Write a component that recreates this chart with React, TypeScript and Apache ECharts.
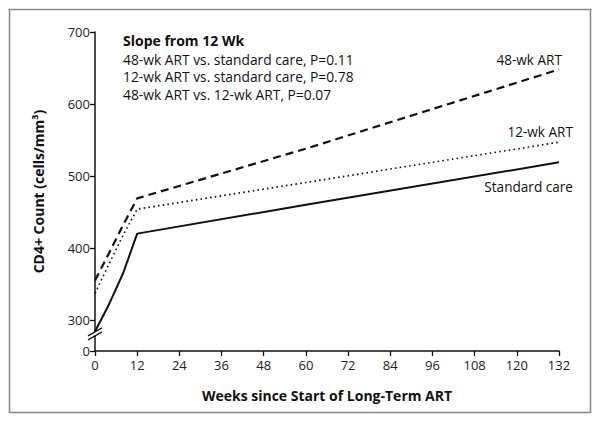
import React, { useEffect, useRef } from "react";
import * as echarts from "echarts";

const weeks = [0, 4, 8, 12, 60, 132];
const standardCare = [284, 322, 365, 420, 460, 519];
const art12 = [337, 378, 418, 454, 491, 547];
const art48 = [355, 393, 432, 469, 538, 648];
const yTicks = [257, 300, 400, 500, 600, 700];
const yBreakValue = 278;
const noteTitle = "Slope from 12 Wk";
const noteLines = [
  "48-wk ART vs. standard care, P=0.11",
  "12-wk ART vs. standard care, P=0.78",
  "48-wk ART vs. 12-wk ART, P=0.07",
];
const FONT = "'Open Sans', Lato, sans-serif";

function pairs(ys: number[]) {
  return weeks.map((w, i) => [w, ys[i]]);
}

export default function App() {
  const ref = useRef<HTMLDivElement>(null);
  useEffect(() => {
    document.body.style.margin = "0";
    const chart = echarts.init(ref.current!, null, { renderer: "svg" });
    const axisCommon = {
      axisLine: { show: true, lineStyle: { color: "#111", width: 1.5 } },
      axisTick: { show: true, length: 5, lineStyle: { color: "#111", width: 1.3 } },
      splitLine: { show: false },
      axisLabel: { color: "#222", fontSize: 13, fontFamily: FONT },
      nameTextStyle: { color: "#111", fontSize: 14, fontWeight: "bold", fontFamily: FONT },
    };
    chart.setOption({
      animation: false,
      backgroundColor: "#fff",
      grid: { left: 95, right: 41, top: 32, bottom: 72, containLabel: false },
      xAxis: {
        type: "value",
        min: 0,
        max: 132,
        interval: 12,
        name: "Weeks since Start of Long-Term ART",
        nameLocation: "middle",
        nameGap: 37,
        ...axisCommon,
        axisLabel: { ...axisCommon.axisLabel, margin: 7 },
      },
      yAxis: {
        type: "value",
        min: 257,
        max: 700,
        name: "CD4+ Count (cells/mm³)",
        nameLocation: "middle",
        nameGap: 50,
        ...axisCommon,
        axisTick: { ...axisCommon.axisTick, customValues: yTicks },
        axisLabel: {
          ...axisCommon.axisLabel,
          margin: 5,
          customValues: yTicks,
          formatter: (v: number) => (v === yTicks[0] ? "0" : String(v)),
        },
      },
      series: [
        {
          name: "Standard care",
          type: "line",
          data: pairs(standardCare),
          symbol: "none",
          lineStyle: { color: "#111", width: 2, type: "solid" },
        },
        {
          name: "12-wk ART",
          type: "line",
          data: pairs(art12),
          symbol: "none",
          lineStyle: { color: "#111", width: 1.6, type: [1.6, 3.2] },
        },
        {
          name: "48-wk ART",
          type: "line",
          data: pairs(art48),
          symbol: "none",
          lineStyle: { color: "#111", width: 2.2, type: [8, 5] },
        },
      ],
    });
    const p = chart.convertToPixel({ gridIndex: 0 }, [0, yBreakValue]) as number[];
    const bx = p[0];
    const by = p[1];
    chart.setOption({
      graphic: [
        {
          type: "rect",
          shape: { x: 9.5, y: 9.5, width: 581, height: 403 },
          style: { fill: "none", stroke: "#8a8a8a", lineWidth: 1.6 },
          silent: true,
        },
        {
          type: "polygon",
          shape: {
            points: [
              [bx - 7, by + 4],
              [bx + 7, by - 4],
              [bx + 7, by - 8],
              [bx - 7, by],
            ],
          },
          style: { fill: "#fff" },
          z: 100,
        },
        {
          type: "line",
          shape: { x1: bx - 7, y1: by + 4, x2: bx + 7, y2: by - 4 },
          style: { stroke: "#111", lineWidth: 1.2 },
          z: 101,
        },
        {
          type: "line",
          shape: { x1: bx - 7, y1: by, x2: bx + 7, y2: by - 8 },
          style: { stroke: "#111", lineWidth: 1.2 },
          z: 101,
        },
        {
          type: "text",
          x: 123,
          y: 40,
          style: { text: noteTitle, font: `bold 14px ${FONT}`, fill: "#111", textVerticalAlign: "middle" },
        },
        ...noteLines.map((t, i) => ({
          type: "text",
          x: 123,
          y: 59 + i * 17.5,
          style: { text: t, font: `13.8px ${FONT}`, fill: "#111", textVerticalAlign: "middle" },
        })),
        {
          type: "text",
          x: 562,
          y: 59,
          style: { text: "48-wk ART", font: `13.6px ${FONT}`, fill: "#111", textAlign: "right", textVerticalAlign: "middle" },
        },
        {
          type: "text",
          x: 573,
          y: 131,
          style: { text: "12-wk ART", font: `13.6px ${FONT}`, fill: "#111", textAlign: "right", textVerticalAlign: "middle" },
        },
        {
          type: "text",
          x: 573,
          y: 186,
          style: { text: "Standard care", font: `13.6px ${FONT}`, fill: "#111", textAlign: "right", textVerticalAlign: "middle" },
        },
      ],
    });
    return () => chart.dispose();
  }, []);
  return <div ref={ref} style={{ width: 600, height: 423 }} />;
}
